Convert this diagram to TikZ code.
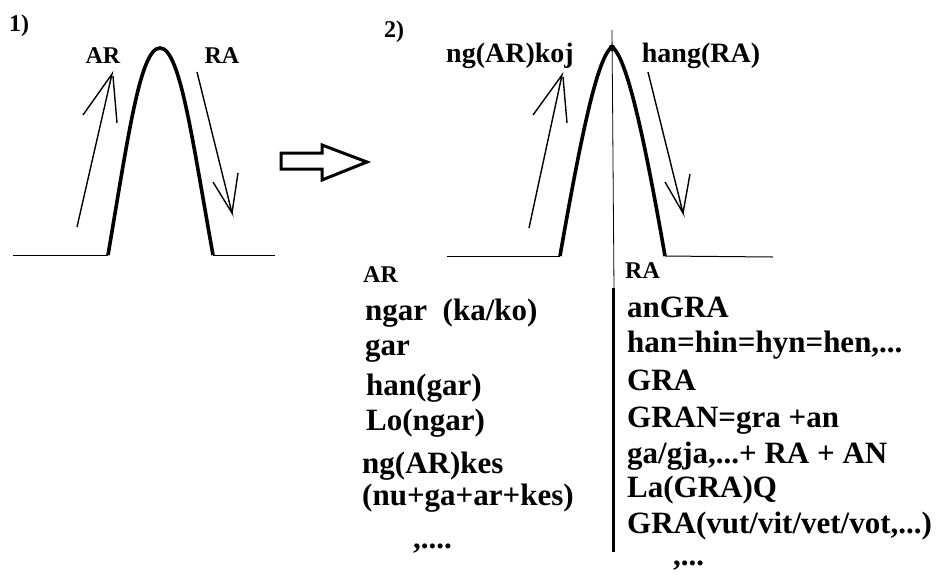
\documentclass[tikz,border=0pt]{standalone}
\usepackage{fontspec}
\setmainfont{Liberation Serif}
\usetikzlibrary{positioning}

\begin{document}
\begin{tikzpicture}[x=1pt,y=-1pt,
  hill/.style={line width=3.6pt},
  ground/.style={line width=1pt},
  pen/.style={line width=1.4pt},
  word/.style={font=\fontsize{31}{36}\selectfont\bfseries,inner sep=0pt,anchor=base west},
  tag/.style={font=\fontsize{24}{26}\selectfont\bfseries,inner sep=0pt,anchor=base},
  big tag/.style={font=\fontsize{28}{32}\selectfont\bfseries,inner sep=0pt,anchor=base}
]
\useasboundingbox (0,0) rectangle (939,574);

% panel 1
\node[tag] (one) at (19,31) {1)};
\draw[ground] (13,255) -- (108,255);
\draw[ground] (213,255) -- (275,255);
\draw[hill] (108,255) .. controls (128,138) and (140,48) .. (160,48)
  .. controls (180,48) and (192,138) .. (213,255);
\node[tag] (ar1) at (103,63) {AR};
\node[tag] (ra1) at (222,63) {RA};
\draw[pen] (77,227) -- (112,74) -- (83,115);
\draw[pen] (113,76) -- (117,123);
\draw[pen] (197,72) -- (232,213) -- (213,182);
\draw[pen] (232,213) -- (238,173);

% block arrow
\draw[line width=3pt] (281,153) -- (322,153) -- (322,145) -- (367,162)
  -- (322,180) -- (322,169) -- (281,169) -- cycle;

% panel 2
\node[tag] (two) at (394,37) {2)};
\draw[ground] (447,256) -- (560,256);
\draw[ground] (665,256) -- (773,257);
\draw[line width=0.8pt] (612,30) -- (614,290);
\draw[hill] (560,256) .. controls (582,130) and (598,56) .. (612,47)
  .. controls (626,56) and (643,130) .. (665,256);
\fill (612,48) circle (3.5);
\node[big tag] (ngkoj) at (510,62) {ng(AR)koj};
\node[big tag] (hang) at (701,62) {hang(RA)};
\draw[pen] (529,228) -- (562,75) -- (533,115);
\draw[pen] (563,77) -- (567,123);
\draw[pen] (648,72) -- (683,213) -- (665,182);
\draw[pen] (683,213) -- (690,174);

% word lists
\draw[line width=3pt] (613,288) -- (613,552);
\node[tag,anchor=base west] (arhead) at (363,282) {AR};
\foreach \x/\y/\t [count=\i] in {365/320/{ngar\ \ (ka/ko)},365/355/{gar},
    366/395/{han(gar)},366/430/{Lo(ngar)},362/473/{ng(AR)kes},
    362/505/{(nu+ga+ar+kes)},413/548/{,....}}
  \node[word] (arline\i) at (\x,\y) {\t};
\node[tag,anchor=base west] (rahead) at (625,278) {RA};
\foreach \y/\t [count=\i] in {317/{anGRA},352/{han=hin=hyn=hen,...},
    390/{GRA},427/{GRAN=gra +an},463/{ga/gja,...+ RA + AN},
    497/{La(GRA)Q},533/{GRA(vut/vit/vet/vot,...)}}
  \node[word] (raline\i) at (627,\y) {\t};
\node[word] (radots) at (673,565) {,...};
\end{tikzpicture}
\end{document}
